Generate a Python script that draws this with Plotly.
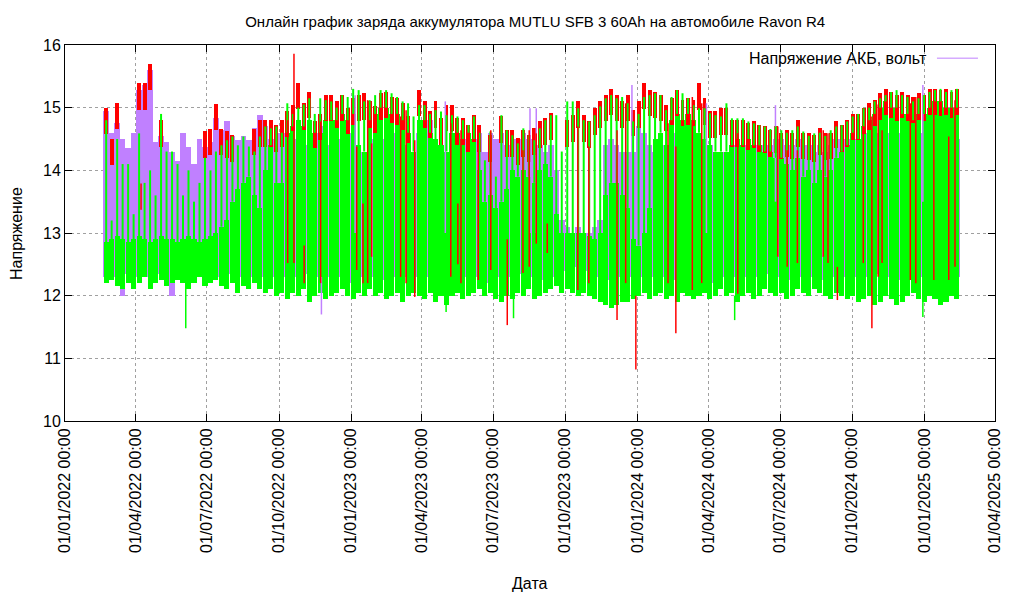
import numpy as np
import pandas as pd
import plotly.graph_objects as go

# ---------------- data (weekly envelopes) ----------------
week_start = pd.date_range("2022-02-19", periods=156, freq="7D")

purple_lo = [
    12.3, 12.4, 12.3, 12.0, 12.35, 12.1, 12.3, 12.35, 12.3, 12.2,
    12.35, 12.3, 12.0, 12.3, 12.35, 12.2, 12.3, 12.3, 12.25, 12.3,
    12.3, 12.2, 12.35, 12.3, 12.3, 12.2, 12.3, 12.25, 12.3, 12.3,
    12.3, 12.35, 12.3, 12.2, 12.3, 12.3, 12.35, 12.3, 12.3, 12.25,
    12.3, 12.3, 12.35, 12.3, 12.3, 12.2, 12.3, 12.3, 12.35, 12.3,
    12.3, 12.25, 12.3, 12.3, 12.35, 12.3, 12.3, 12.3, 12.2, 12.3,
    12.3, 12.35, 12.3, 12.3, 12.25, 12.3, 12.3, 12.3, 12.35, 12.2,
    12.3, 12.3, 12.25, 12.3, 12.3, 12.35, 12.3, 12.3, 12.3, 12.25,
    12.3, 12.3, 12.35, 12.4, 12.45, 12.4, 12.45, 12.4, 12.4, 12.35,
    12.3, 12.3, 12.25, 12.3, 12.3, 12.35, 12.3, 12.2, 12.3, 12.3,
    12.3, 12.35, 12.3, 12.3, 12.25, 12.3, 12.3, 12.35, 12.3, 12.3,
    12.2, 12.3, 12.3, 12.35, 12.3, 12.3, 12.3, 12.25, 12.3, 12.3,
    12.35, 12.3, 12.3, 12.3, 12.25, 12.3, 12.3, 12.35, 12.3, 12.3,
    12.3, 12.25, 12.3, 12.3, 12.35, 12.3, 12.3, 12.3, 12.25, 12.3,
    12.3, 12.35, 12.3, 12.3, 12.3, 12.25, 12.3, 12.3, 12.35, 12.3,
    12.3, 12.3, 12.25, 12.3, 12.3, 12.3,
]
purple_hi = [
    14.94, 14.6, 14.75, 14.5, 14.35, 14.6, 15.28, 15.36, 15.6, 14.45,
    14.55, 14.45, 14.3, 14.15, 14.59, 14.38, 14.1, 14.5, 14.38, 14.45,
    14.83, 14.64, 14.78, 14.54, 14.48, 14.55, 14.48, 14.67, 14.88, 14.7,
    14.5, 14.6, 14.6, 14.5, 14.5, 14.4, 14.4, 14.5, 14.6, 14.7,
    14.5, 14.4, 14.5, 14.5, 14.6, 14.6, 14.4, 14.3, 14.5, 14.5,
    14.6, 14.5, 14.5, 14.6, 14.5, 14.4, 14.3, 14.6, 14.6, 14.8,
    14.5, 14.4, 14.3, 14.6, 14.6, 14.5, 14.6, 14.5, 14.6, 14.3,
    14.6, 14.5, 14.6, 14.4, 14.5, 14.5, 14.6, 14.5, 14.5, 14.4,
    14.3, 14.4, 14.0, 13.2, 13.1, 13.0, 13.1, 13.0, 13.0, 13.1,
    13.2, 14.4, 14.5, 14.4, 14.3, 14.3, 14.3, 14.7, 14.6, 14.4,
    14.3, 14.4, 14.4, 14.5, 14.6, 14.5, 14.6, 14.6, 14.5, 14.5,
    14.4, 14.3, 14.3, 14.3, 14.4, 14.5, 14.4, 14.5, 14.4, 14.4,
    14.4, 14.4, 14.5, 14.5, 14.4, 14.4, 14.5, 14.4, 14.4, 14.3,
    14.4, 14.3, 14.4, 14.5, 14.5, 14.5, 14.6, 14.5, 14.6, 14.6,
    14.5, 14.6, 14.5, 14.6, 14.6, 14.6, 14.5, 14.6, 14.5, 14.6,
    14.5, 14.6, 14.5, 14.4, 14.5, 14.5,
]
green_lo = [
    12.2, 12.25, 12.15, 12.1, 12.2, 12.1, 12.2, 12.3, 12.1, 12.2,
    12.25, 12.15, 12.2, 12.25, 12.2, 12.1, 12.2, 12.3, 12.15, 12.2,
    12.25, 12.15, 12.1, 12.2, 12.05, 12.15, 12.1, 12.2, 12.1, 12.05,
    12.1, 12.0, 12.05, 11.95, 12.05, 12.0, 12.1, 11.9, 12.0, 12.05,
    11.95, 12.0, 12.05, 12.1, 12.0, 11.95, 12.05, 12.0, 12.1, 12.0,
    12.05, 11.95, 12.0, 12.05, 11.9, 12.0, 12.05, 12.0, 11.95, 12.05,
    11.9, 12.0, 11.85, 12.0, 12.05, 11.95, 12.0, 12.05, 12.1, 12.0,
    12.05, 11.95, 11.9, 12.0, 11.95, 12.05, 12.0, 12.1, 11.95, 12.0,
    12.05, 12.1, 12.15, 12.05, 12.1, 12.05, 12.0, 12.05, 12.0, 11.95,
    11.9, 11.85, 11.8, 11.85, 11.9, 11.9, 11.95, 12.0, 12.05, 11.95,
    12.0, 12.05, 11.95, 12.0, 11.9, 12.05, 12.0, 11.95, 12.0, 12.05,
    11.95, 12.0, 12.1, 12.0, 12.05, 11.9, 12.0, 12.05, 11.95, 12.0,
    12.1, 12.05, 12.0, 12.05, 11.95, 12.0, 12.1, 12.05, 12.0, 12.1,
    12.05, 12.0, 11.95, 12.05, 12.0, 11.95, 12.0, 11.9, 11.95, 12.0,
    11.85, 11.9, 12.0, 11.95, 11.85, 11.9, 12.0, 12.05, 11.95, 11.9,
    12.0, 11.95, 11.85, 11.9, 12.0, 11.95,
]
green_hi = [
    12.85, 12.9, 12.95, 12.9, 12.85, 12.9, 12.95, 12.9, 12.85, 12.9,
    12.95, 12.9, 12.9, 12.85, 12.9, 12.95, 12.9, 12.85, 12.9, 12.95,
    13.0, 13.1, 13.2, 13.5, 13.7, 13.8, 13.9, 13.6, 13.4, 14.0,
    14.4, 13.8, 13.8, 14.6, 14.7, 14.8, 14.7, 14.8, 14.6, 14.6,
    14.8, 14.8, 14.8, 14.9, 14.8, 14.9, 14.4, 14.3, 14.8, 14.9,
    15.0, 15.0, 14.9, 14.9, 14.8, 14.6, 14.3, 14.8, 14.8, 14.6,
    14.5, 14.4, 14.3, 14.6, 14.6, 14.5, 14.6, 14.5, 14.0, 13.5,
    13.6, 13.4, 13.5, 13.7, 14.0, 13.9, 14.0, 13.9, 13.8, 14.0,
    14.1, 13.9, 13.3, 13.0, 13.0, 13.0, 13.0, 13.0, 12.95, 12.9,
    13.0, 13.6, 13.8, 13.8, 13.6, 13.4, 12.9, 12.8, 13.0, 13.4,
    14.5, 14.6, 14.4, 14.8, 14.9, 14.8, 14.9, 14.8, 14.6, 14.5,
    14.4, 14.3, 14.3, 14.3, 14.4, 14.5, 14.4, 14.5, 14.4, 14.4,
    14.3, 14.3, 14.2, 14.2, 14.1, 14.0, 14.2, 13.9, 14.0, 13.8,
    14.0, 13.9, 14.0, 14.2, 14.3, 14.4, 14.6, 14.5, 14.7, 14.8,
    14.9, 15.0, 15.1, 15.0, 15.0, 14.9, 14.9, 14.8, 14.9, 14.9,
    15.0, 15.1, 15.1, 15.0, 15.0, 15.0,
]
green_peak = [
    14.8, 13.2, 14.5, 14.1, 14.1, 13.3, 14.59, 13.8, 14.0, 13.6,
    14.9, 14.3, 14.3, 14.1, 13.6, 14.0, 13.5, 13.8, 14.2, 14.0,
    14.3, 14.4, 14.48, 14.54, 14.4, 14.54, 14.38, 14.3, 14.54, 14.7,
    14.67, 14.7, 14.6, 15.07, 14.9, 15.0, 15.05, 15.15, 14.9, 15.15,
    15.12, 15.1, 15.0, 15.2, 15.17, 15.3, 15.28, 15.1, 15.12, 15.2,
    15.28, 15.28, 15.23, 15.17, 15.1, 15.07, 14.86, 15.04, 15.04, 14.9,
    14.96, 14.94, 14.88, 14.88, 14.86, 14.8, 14.72, 14.86, 14.6, 14.16,
    14.62, 13.9, 14.88, 14.64, 14.56, 14.43, 14.67, 14.56, 14.48, 14.67,
    14.8, 14.88, 14.88, 14.3, 15.1, 15.1, 14.99, 14.8, 14.78, 14.88,
    15.02, 15.15, 15.2, 15.15, 15.17, 15.07, 14.78, 14.9, 15.17, 15.2,
    15.23, 15.2, 14.96, 15.17, 15.28, 15.23, 15.15, 15.04, 14.99, 14.99,
    14.91, 14.88, 14.86, 15.07, 14.83, 14.83, 14.83, 14.78, 14.75, 14.72,
    14.7, 14.66, 14.7, 14.64, 14.6, 14.64, 14.7, 14.62, 14.55, 14.59,
    14.6, 14.55, 14.64, 14.7, 14.72, 14.78, 14.86, 14.9, 14.99, 15.0,
    15.1, 15.15, 15.2, 15.25, 15.28, 15.2, 15.17, 15.1, 15.15, 15.2,
    15.25, 15.28, 15.3, 15.25, 15.28, 15.3,
]
red_hi = [
    15.0, 14.5, 15.08, None, None, None, 15.39, 15.39, 15.7, None,
    14.8, None, None, None, None, None, None, None, 14.62, 14.66,
    15.06, 14.66, 14.62, 14.56, None, None, None, 14.66, 14.8, 14.8,
    14.8, 14.72, 14.8, 14.95, 15.05, 15.4, 15.07, 15.25, 14.78, 14.9,
    15.2, 15.2, 15.1, 15.2, 15.0, 15.15, 15.2, 15.23, 15.1, 15.02,
    15.23, 15.25, 15.17, 15.15, 15.07, 14.86, None, 15.28, 15.1, 14.94,
    15.1, 14.83, 15.04, 15.04, 14.83, 14.83, 14.72, 14.88, 14.72, None,
    14.56, None, 14.86, 14.64, 14.64, 14.51, 14.64, 14.56, 14.67, 14.78,
    14.83, 14.91, None, None, 14.8, 14.88, 15.1, 14.88, 14.78, 14.99,
    15.1, 15.2, 15.3, 15.2, 15.1, 15.2, 14.96, 15.1, 15.4, 15.28,
    15.25, 15.2, 15.04, 15.15, 15.28, 15.12, 15.15, 15.12, 15.39, 15.15,
    14.94, 14.94, 14.99, 14.99, 14.8, 14.8, 14.8, 14.75, 14.78, 14.72,
    14.7, 14.64, 14.7, 14.6, 14.64, 14.6, 14.8, 14.6, 14.59, 14.56,
    14.67, 14.59, 14.6, 14.78, 14.72, 14.8, 14.9, 14.9, 15.0, 15.07,
    15.12, 15.23, 15.3, 15.25, 15.2, 15.25, 15.2, 15.17, 15.23, 15.2,
    15.3, 15.3, 15.28, 15.3, 15.25, 15.3,
]

# single red strokes: date, low, high
red_dates = ["2022-04-08", "2022-10-12", "2022-10-20", "2022-11-02", "2022-11-23",
             "2023-01-08", "2023-01-16", "2023-01-22", "2023-01-27", "2023-03-05",
             "2023-03-12", "2023-03-23", "2023-05-08", "2023-05-17", "2023-05-21",
             "2023-06-12", "2023-06-28", "2023-07-19", "2023-08-08", "2023-08-16",
             "2023-08-25", "2023-09-08", "2023-10-17", "2023-10-31", "2023-12-06",
             "2023-12-17", "2023-12-30", "2024-02-09", "2024-02-19", "2024-03-11",
             "2024-03-23", "2024-05-08", "2024-06-28", "2024-07-10", "2024-07-23",
             "2024-08-25", "2024-08-31", "2024-09-12", "2024-10-15", "2024-10-26",
             "2024-11-03", "2024-11-08", "2024-12-14", "2024-12-21", "2025-01-13",
             "2025-02-01", "2025-02-09"]
red_low = [13.37, 12.52, 12.52, 12.2, 12.2,
           12.41, 12.2, 12.2, 12.62, 12.3,
           12.2, 11.98, 12.3, 12.5, 12.2,
           12.25, 12.41, 11.53, 12.36, 12.46,
           12.83, 12.68, 12.09, 12.2, 11.61,
           12.2, 10.82, 12.2, 11.4, 12.09,
           12.2, 12.03, 12.62, 12.46, 12.52,
           12.62, 12.52, 11.93, 12.52, 11.48,
           12.3, 12.52, 12.25, 12.2, 12.25,
           12.25, 12.46]
red_high = [13.79, 14.8, 15.86, 12.8, 14.78,
            14.38, 13.47, 15.12, 14.43, 14.86,
            14.96, 14.48, 14.75, 13.47, 14.64,
            14.64, 14.64, 12.9, 14.32, 14.64,
            14.59, 13.15, 14.7, 14.38, 14.64,
            15.07, 12.0, 14.75, 14.38, 15.17,
            15.07, 14.59, 14.7, 14.32, 14.32,
            14.64, 14.59, 12.46, 14.7, 14.86,
            15.05, 14.64, 15.07, 15.17, 15.12,
            14.54, 15.12]

# single purple strokes
purple_dates = ["2022-11-24", "2023-01-06", "2023-05-01", "2023-08-17", "2023-08-25",
                "2023-12-25", "2024-03-29", "2024-06-25", "2024-12-30"]
purple_low = [11.7, 13.0, 13.0, 13.0, 13.0, 13.0, 13.0, 13.5, 13.5]
purple_high = [12.3, 15.2, 15.1, 14.99, 14.99, 15.36, 15.07, 15.04, 15.36]

# single green strokes (low outliers)
green_dates = ["2022-06-04", "2023-05-02", "2023-07-27", "2024-05-04", "2024-12-30"]
green_low = [11.48, 11.74, 11.64, 11.61, 11.66]
green_high = [12.3, 12.1, 12.1, 12.0, 12.0]

# ---------------- styles ----------------
PURPLE = "#c080ff"
GREEN = "#00ff00"
RED = "#ff0000"
RED_CAP = 0.42
WEEK_MS = 7 * 24 * 3600 * 1000
FONT = "Liberation Sans, Arial, sans-serif"

centers = week_start + pd.Timedelta(days=3.5)


def band(lo, hi, color, frac):
    lo = np.array(lo, dtype=float)
    hi = np.array(hi, dtype=float)
    m = ~np.isnan(hi) & ~np.isnan(lo)
    return go.Bar(x=centers[m], base=lo[m], y=(hi - lo)[m], width=WEEK_MS * frac,
                  marker=dict(color=color, line=dict(width=0), opacity=1),
                  showlegend=False, hoverinfo="skip")


def strokes(dates, lo, hi, color, width):
    xs, ys = [], []
    for d, a, b in zip(dates, lo, hi):
        xs += [d, d, None]
        ys += [a, b, None]
    return go.Scatter(x=xs, y=ys, mode="lines", line=dict(color=color, width=width),
                      showlegend=False, hoverinfo="skip")


red_hi_arr = np.array(red_hi, dtype=float)

fig = go.Figure()
fig.add_trace(band(purple_lo, purple_hi, PURPLE, 1.0))
fig.add_trace(strokes(purple_dates, purple_low, purple_high, PURPLE, 1.5))
fig.add_trace(band(green_lo, green_hi, GREEN, 0.92))
fig.add_trace(strokes(list(centers), green_hi, green_peak, GREEN, 2))
fig.add_trace(strokes(green_dates, green_low, green_high, GREEN, 1.5))
fig.add_trace(band(red_hi_arr - RED_CAP, red_hi_arr, RED, 0.72))
fig.add_trace(strokes(red_dates, red_low, red_high, RED, 1.5))

axis_common = dict(showline=True, linecolor="black", linewidth=1, mirror="ticks",
                   ticks="inside", ticklen=7, tickcolor="black", showgrid=True,
                   gridcolor="#a0a0a0", griddash="dot", gridwidth=1, zeroline=False,
                   tickfont=dict(family=FONT, size=16, color="black"))

fig.update_xaxes(type="date", range=["2022-01-01", "2025-04-01"], tick0="2022-01-01",
                 dtick="M3", tickformat="%d/%m/%Y %H:%M", tickangle=-90, **axis_common)
fig.update_yaxes(range=[10, 16], dtick=1, **axis_common)

# the page adds an 8 px body margin, so the figure is a little smaller than the window
W, H = 1008, 584
fig.update_layout(
    width=W, height=H,
    margin=dict(l=57, r=21, t=37, b=171),
    plot_bgcolor="white", paper_bgcolor="white",
    barmode="overlay", bargap=0,
    font=dict(family=FONT, size=16, color="black"),
    title=dict(text="Онлайн график заряда аккумулятора MUTLU SFB 3 60Ah на автомобиле Ravon R4",
               x=0.523, xanchor="center", y=1 - 14 / H, yanchor="middle",
               font=dict(family=FONT, size=15, color="black")),
    annotations=[
        dict(text="Напряжение АКБ, вольт", xref="paper", yref="paper", x=0.929, y=0.965,
             xanchor="right", yanchor="middle", showarrow=False,
             font=dict(family=FONT, size=16, color="black")),
        dict(text="Напряжение", xref="paper", yref="paper", x=-0.0527, y=0.5,
             xanchor="center", yanchor="middle", textangle=-90, showarrow=False,
             font=dict(family=FONT, size=16, color="black")),
        dict(text="Дата", xref="paper", yref="paper", x=0.5, y=-0.432,
             xanchor="center", yanchor="middle", showarrow=False,
             font=dict(family=FONT, size=16, color="black")),
    ],
    shapes=[dict(type="line", xref="paper", yref="paper", x0=0.9376, x1=0.9817,
                 y0=0.965, y1=0.965, line=dict(color=PURPLE, width=1))],
)

for name, arr in [("purple_lo", purple_lo), ("purple_hi", purple_hi), ("green_lo", green_lo),
                  ("green_hi", green_hi), ("green_peak", green_peak), ("red_hi", red_hi)]:
    assert len(arr) == 156, (name, len(arr))

fig.write_html("out.html")
